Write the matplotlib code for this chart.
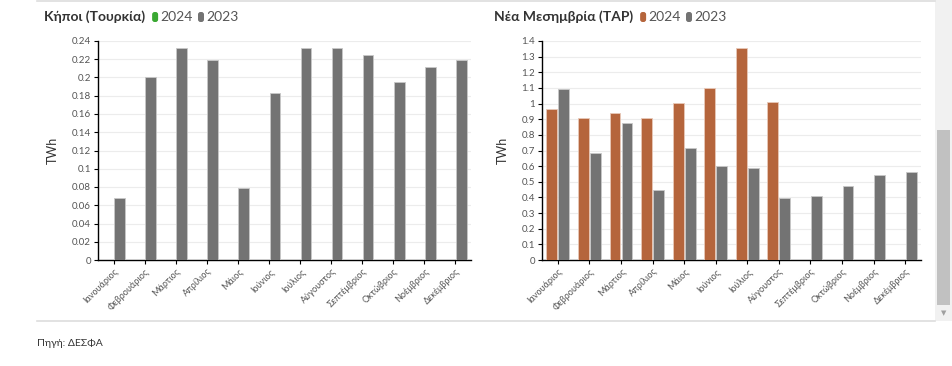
import matplotlib.pyplot as plt
import numpy as np
from matplotlib.patches import Rectangle, FancyBboxPatch
from matplotlib.lines import Line2D

plt.rcParams['font.family'] = ['Lato', 'Noto Sans', 'DejaVu Sans']

months = ["Ιανουάριος", "Φεβρουάριος", "Μάρτιος", "Απρίλιος", "Μάιος", "Ιούνιος",
          "Ιούλιος", "Αύγουστος", "Σεπτέμβριος", "Οκτώβριος", "Νοέμβριος", "Δεκέμβριος"]

# Κήποι (Τουρκία) - only 2023 values present
kipoi_2024 = [np.nan] * 12
kipoi_2023 = [0.068, 0.200, 0.232, 0.219, 0.079, 0.183, 0.232, 0.232, 0.225, 0.195, 0.211, 0.219]

# Νέα Μεσημβρία (TAP)
tap_2024 = [0.965, 0.907, 0.937, 0.907, 1.005, 1.101, 1.355, 1.012,
            np.nan, np.nan, np.nan, np.nan]
tap_2023 = [1.090, 0.687, 0.873, 0.450, 0.719, 0.602, 0.591, 0.395, 0.412, 0.476, 0.544, 0.565]

GRAY = '#737373'
ORANGE = '#b5653c'
GREEN = '#3aa832'
W, H = 953, 366

fig = plt.figure(figsize=(W / 100, H / 100), dpi=100)


def draw_panel(rect, v24, v23, c24, ymax, ystep, fmt):
    ax = fig.add_axes(rect)
    x = np.arange(len(months))
    ax.bar(x - 0.19, v24, width=0.345, color=c24, edgecolor='#e8c8b8', linewidth=0.6, zorder=3)
    ax.bar(x + 0.19, v23, width=0.345, color=GRAY, edgecolor='#c8c8c8', linewidth=0.6, zorder=3)
    ax.set_xlim(-0.5, 11.5)
    ax.set_ylim(0, ymax)
    ticks = np.arange(0, ymax + ystep / 2, ystep)
    ax.set_yticks(ticks)
    ax.set_yticklabels([fmt(t) for t in ticks], fontsize=7, color='#555555')
    ax.set_xticks(x)
    ax.set_xticklabels(months, rotation=45, ha='right', rotation_mode='anchor',
                       fontsize=6.5, color='#555555')
    ax.grid(axis='y', color='#ececec', linewidth=0.8, zorder=0)
    for s in ['top', 'right']:
        ax.spines[s].set_visible(False)
    ax.spines['left'].set_linewidth(1.0)
    ax.spines['bottom'].set_linewidth(1.0)
    ax.tick_params(axis='both', length=3, width=0.8, pad=2)
    ax.set_ylabel('TWh', fontsize=9, color='#333333', labelpad=9)
    return ax


def fmt_small(t):
    return f"{t:.2f}".rstrip('0').rstrip('.')


def fmt_big(t):
    return f"{t:.1f}".rstrip('0').rstrip('.')


draw_panel([98 / W, 1 - 260 / H, 373 / W, 219 / H], kipoi_2024, kipoi_2023, GREEN, 0.24, 0.02, fmt_small)
draw_panel([542 / W, 1 - 260 / H, 379 / W, 219 / H], tap_2024, tap_2023, ORANGE, 1.4, 0.1, fmt_big)

# titles with inline legends
fig.canvas.draw()
renderer = fig.canvas.get_renderer()


def title_with_legend(x0, title, c24):
    t = fig.text(x0 / W, 1 - 17 / H, title, fontsize=10, fontweight='bold', color='#333333',
                 va='center', ha='left')
    bb = t.get_window_extent(renderer)
    xpos = bb.x1 + 7
    for lab, col in [('2024', c24), ('2023', GRAY)]:
        fig.patches.append(FancyBboxPatch((xpos, H - 22), 6, 10, boxstyle='round,pad=0,rounding_size=2.5',
                                          transform=None, facecolor=col, edgecolor='none'))
        tt = fig.text((xpos + 8.5) / W, 1 - 17 / H, lab, fontsize=10, color='#555555',
                      va='center', ha='left')
        xpos = tt.get_window_extent(renderer).x1 + 5


title_with_legend(44, 'Κήποι (Τουρκία)', GREEN)
title_with_legend(494, 'Νέα Μεσημβρία (TAP)', ORANGE)

# separators
fig.add_artist(Line2D([37 / W, 935 / W], [1 - 1 / H, 1 - 1 / H], color='#dddddd', linewidth=1.2))
fig.add_artist(Line2D([37 / W, 935 / W], [1 - 321 / H, 1 - 321 / H], color='#dddddd', linewidth=1.2))

# scrollbar
fig.patches.append(Rectangle((935 / W, 1 - 321 / H), 18 / W, 321 / H, transform=fig.transFigure,
                             facecolor='#f1f1f1', edgecolor='none'))
fig.patches.append(Rectangle((937 / W, 1 - 305 / H), 13 / W, 175 / H, transform=fig.transFigure,
                             facecolor='#c1c1c1', edgecolor='none'))
fig.text(943.5 / W, 1 - 313 / H, '▼', fontsize=5, color='#a0a0a0', ha='center', va='center',
         family='DejaVu Sans')

fig.text(37 / W, 1 - 343 / H, 'Πηγή: ΔΕΣΦΑ', fontsize=7.5, color='#333333', va='center', ha='left')

fig.savefig('out.png', dpi=100)
